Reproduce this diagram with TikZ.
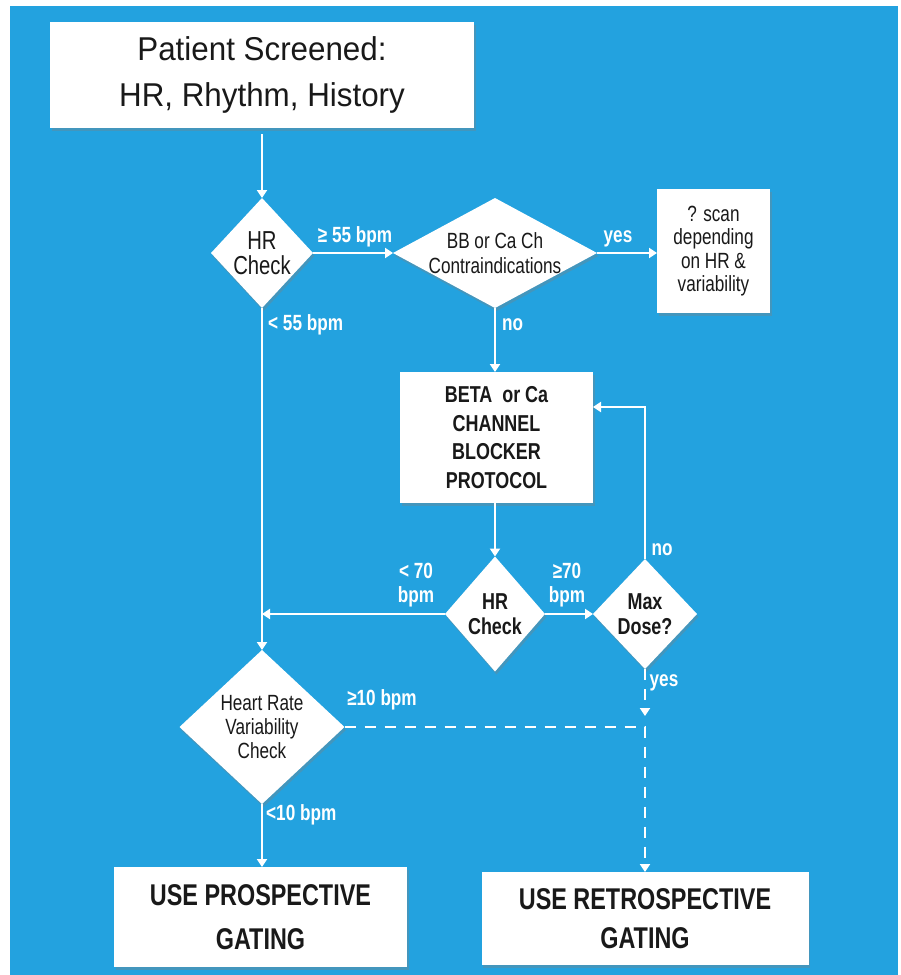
\documentclass[tikz,border=0pt]{standalone}
\usepackage{fontspec}
\setmainfont{Liberation Sans}
\newfontfamily\nar[FakeStretch=0.78]{Liberation Sans}
\newfontfamily\ttl[FakeStretch=0.95]{Liberation Sans}
\usetikzlibrary{shapes.geometric,arrows.meta,shadows}
\definecolor{bg}{RGB}{35,162,223}
\definecolor{ink}{RGB}{25,25,25}
\begin{document}
\begin{tikzpicture}[x=1pt,y=-1pt,
  box/.style={draw=none, fill=white, inner sep=0pt, outer sep=0pt, align=center, text=ink,
    drop shadow={shadow xshift=1.5pt, shadow yshift=-3pt, opacity=0.35}},
  dia/.style={box, diamond},
  dtxt/.style={align=center, text=ink, inner sep=0pt},
  flow/.style={draw=white, line width=2.6pt, -{Triangle[width=10pt,length=8pt]}},
  dflow/.style={flow, dash pattern=on 11pt off 9pt},
  lab/.style={text=white, font=\nar\bfseries\fontsize{22}{24}\selectfont, inner sep=0pt, align=center}
]
\fill[white] (0,0) rectangle (901,975);
\fill[bg] (10,6) rectangle (898,975);

\node[box, minimum width=424pt, minimum height=106pt, font=\ttl\fontsize{33}{46.5}\selectfont] (top) at (262,75) {Patient Screened:\\HR, Rhythm, History};
\node[dia, minimum width=102pt, minimum height=110pt,
  label={[dtxt, font=\nar\fontsize{26}{25}\selectfont]center:{HR\\Check}}] (hr1) at (262,253) {};
\node[dia, minimum width=204pt, minimum height=110pt,
  label={[dtxt, font=\nar\fontsize{22}{25}\selectfont]center:{BB or Ca Ch\\Contraindications}}] (bb) at (495,253) {};
\node[box, minimum width=113pt, minimum height=124pt, font=\nar\fontsize{22}{23.5}\selectfont] (scan) at (713.5,251) {? scan\\depending\\on HR \&\\variability};
\node[box, minimum width=193pt, minimum height=131pt, font=\nar\bfseries\fontsize{23}{28.7}\selectfont] (beta) at (496.5,437.5) {BETA\ \ or Ca\\CHANNEL\\BLOCKER\\PROTOCOL};
\node[dia, minimum width=100pt, minimum height=115pt,
  label={[dtxt, font=\nar\bfseries\fontsize{23}{25}\selectfont]center:{HR\\Check}}] (hr2) at (495,614) {};
\node[dia, minimum width=104pt, minimum height=110pt,
  label={[dtxt, font=\nar\bfseries\fontsize{23}{25}\selectfont]center:{Max\\Dose?}}] (maxd) at (645,614) {};
\node[dia, minimum width=165pt, minimum height=154pt,
  label={[dtxt, font=\nar\fontsize{22}{24}\selectfont]center:{Heart Rate\\Variability\\Check}}] (hrv) at (262,727) {};
\node[box, minimum width=293pt, minimum height=100pt, font=\nar\bfseries\fontsize{30}{44}\selectfont] (pro) at (260.5,917) {USE PROSPECTIVE\\GATING};
\node[box, minimum width=327pt, minimum height=93pt, font=\nar\bfseries\fontsize{30}{39}\selectfont] (ret) at (645,918.5) {USE RETROSPECTIVE\\GATING};

\coordinate (loop) at (645,407);
\coordinate (yesend) at (645,716);

\draw[flow, shorten <=6pt] (top.south) -- (hr1.north);
\draw[flow] (hr1.east) -- (bb.west);
\draw[flow] (bb.east) -- (bb.east -| scan.west);
\draw[flow] (bb.south) -- (bb.south |- beta.north);
\draw[flow] (hr2.north |- beta.south) -- (hr2.north);
\draw[flow] (hr2.east) -- (maxd.west);
\draw[flow] (maxd.north) -- (loop) -- (loop -| beta.east);
\draw[flow] (hr1.south) -- (hrv.north);
\draw[flow] (hr2.west) -- (hr2.west -| hr1.south);
\draw[dflow] (maxd.south) -- (yesend);
\draw[dflow] (hrv.east) -| (ret.north);
\draw[flow] (hrv.south) -- (hrv.south |- pro.north);

\node[lab] (l55a) at (355,237) {≥ 55 bpm};
\node[lab, anchor=west] (l55b) at (268,325) {< 55 bpm};
\node[lab, anchor=west] (lno1) at (502,325) {no};
\node[lab] (lyes1) at (618,239) {yes};
\node[lab] (l70a) at (416,585) {< 70\\bpm};
\node[lab] (l70b) at (567,585) {≥70\\bpm};
\node[lab] (lno2) at (662,550) {no};
\node[lab] (lyes2) at (664,683) {yes};
\node[lab] (l10a) at (382,700) {≥10 bpm};
\node[lab, anchor=west] (l10b) at (266,815) {<10 bpm};
\end{tikzpicture}
\end{document}
